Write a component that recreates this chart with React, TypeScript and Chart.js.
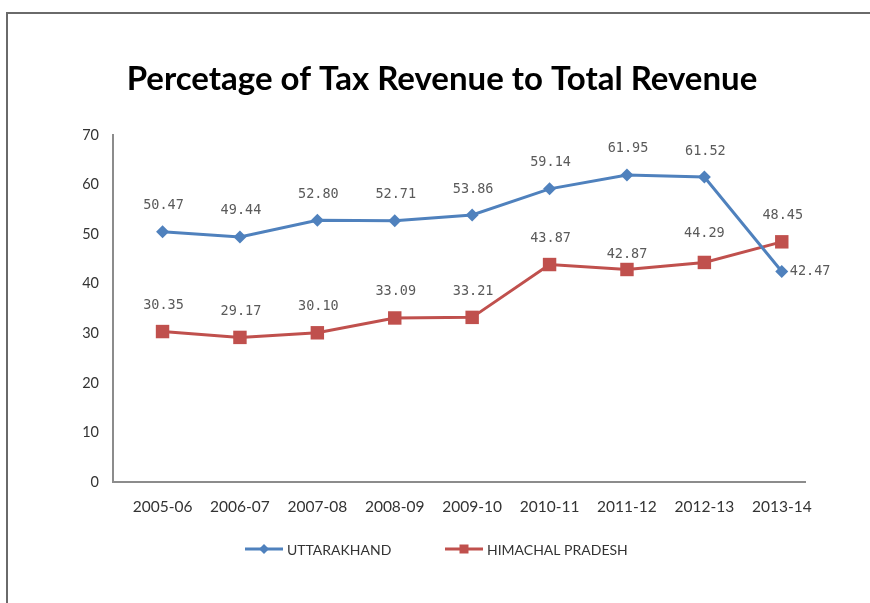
import React, { useEffect, useRef } from "react";
import { Chart, registerables } from "chart.js";

Chart.register(...registerables);

const chartTitle = "Percetage of Tax Revenue to Total Revenue";
const categories = ["2005-06", "2006-07", "2007-08", "2008-09", "2009-10", "2010-11", "2011-12", "2012-13", "2013-14"];
const seriesNames = ["UTTARAKHAND", "HIMACHAL PRADESH"];
const uttarakhand = [50.47, 49.44, 52.8, 52.71, 53.86, 59.14, 61.95, 61.52, 42.47];
const himachal = [30.35, 29.17, 30.1, 33.09, 33.21, 43.87, 42.87, 44.29, 48.45];
const yTicks = [0, 10, 20, 30, 40, 50, 60, 70];

const BLUE = "#4F81BD";
const RED = "#C0504D";

// label placement style: [dx, dy] relative to point, per dataset / index
const labelShift = (ds: number, i: number): [number, number, CanvasTextAlign] => {
  if (ds === 0 && i === 8) return [8, 0, "left"];
  if (ds === 1 && i === 6) return [0, -15, "center"];
  if (ds === 1 && i === 7) return [0, -29, "center"];
  return [1, -26, "center"];
};

const framePlugin = {
  id: "frame",
  beforeDraw(chart: any) {
    const ctx = chart.ctx;
    ctx.save();
    ctx.fillStyle = "#ffffff";
    ctx.fillRect(0, 0, chart.width, chart.height);
    ctx.strokeStyle = "#6a6a6a";
    ctx.lineWidth = 2;
    ctx.beginPath();
    ctx.moveTo(7, chart.height + 5);
    ctx.lineTo(7, 13);
    ctx.lineTo(chart.width + 5, 13);
    ctx.stroke();
    // title
    ctx.fillStyle = "#000000";
    ctx.font = "bold 33px Lato";
    ctx.textAlign = "center";
    ctx.textBaseline = "middle";
    ctx.fillText(chartTitle, 442, 79);
    ctx.restore();
  },
};

const labelPlugin = {
  id: "valueLabels",
  afterDatasetsDraw(chart: any) {
    const ctx = chart.ctx;
    ctx.save();
    ctx.font = "13.5px 'DejaVu Sans Mono'";
    ctx.fillStyle = "#5a5a5a";
    ctx.textBaseline = "middle";
    chart.data.datasets.forEach((ds: any, d: number) => {
      const meta = chart.getDatasetMeta(d);
      meta.data.forEach((pt: any, i: number) => {
        const [dx, dy, align] = labelShift(d, i);
        ctx.textAlign = align;
        ctx.fillText(ds.data[i].y.toFixed(2), pt.x + dx, pt.y + dy);
      });
    });
    ctx.restore();
  },
};

const legendPlugin = {
  id: "customLegend",
  afterDraw(chart: any) {
    const ctx = chart.ctx;
    ctx.save();
    const y = 549;
    const items = [
      { x: 245, color: BLUE, style: "diamond", text: seriesNames[0] },
      { x: 445, color: RED, style: "square", text: seriesNames[1] },
    ];
    items.forEach((it) => {
      ctx.strokeStyle = it.color;
      ctx.lineWidth = 3;
      ctx.beginPath();
      ctx.moveTo(it.x, y);
      ctx.lineTo(it.x + 38, y);
      ctx.stroke();
      ctx.fillStyle = it.color;
      const cx = it.x + 19;
      ctx.beginPath();
      if (it.style === "diamond") {
        ctx.moveTo(cx, y - 5);
        ctx.lineTo(cx + 5, y);
        ctx.lineTo(cx, y + 5);
        ctx.lineTo(cx - 5, y);
        ctx.closePath();
      } else {
        ctx.rect(cx - 4.5, y - 4.5, 9, 9);
      }
      ctx.fill();
      ctx.fillStyle = "#333333";
      ctx.font = "14px Lato";
      ctx.textAlign = "left";
      ctx.textBaseline = "middle";
      ctx.fillText(it.text, it.x + 42, y + 1);
    });
    ctx.restore();
  },
};

export default function App() {
  const ref = useRef<HTMLCanvasElement | null>(null);

  useEffect(() => {
    if (!ref.current) return;
    document.body.style.overflow = "hidden";
    const chart = new Chart(ref.current, {
      type: "line",
      data: {
        datasets: [
          {
            label: seriesNames[0],
            data: uttarakhand.map((v, i) => ({ x: i, y: v })),
            borderColor: BLUE,
            backgroundColor: BLUE,
            borderWidth: 3,
            pointStyle: "rectRot",
            pointRadius: 6.5,
            pointHoverRadius: 6.5,
            pointBorderWidth: 0,
            tension: 0,
          },
          {
            label: seriesNames[1],
            data: himachal.map((v, i) => ({ x: i, y: v })),
            borderColor: RED,
            backgroundColor: RED,
            borderWidth: 3,
            pointStyle: "rect",
            pointRadius: 9.5,
            pointHoverRadius: 9.5,
            pointBorderWidth: 0,
            tension: 0,
          },
        ],
      },
      options: {
        animation: false,
        responsive: false,
        devicePixelRatio: 1,
        layout: { padding: { left: 0, right: 65, top: 135, bottom: 81 } },
        plugins: {
          legend: { display: false },
          title: { display: false },
          tooltip: { enabled: false },
        },
        scales: {
          x: {
            type: "linear",
            min: -0.64,
            max: 8.3,
            grid: { display: false, drawTicks: false },
            border: { display: true, color: "#8c8c8c", width: 2 },
            afterBuildTicks: (scale: any) => {
              scale.ticks = categories.map((_, i) => ({ value: i }));
            },
            afterFit: (scale: any) => {
              scale.height = 40;
            },
            ticks: {
              autoSkip: false,
              maxRotation: 0,
              padding: 16,
              color: "#333333",
              font: { family: "Lato", size: 15.5 },
              callback: (v: any) => categories[Math.round(Number(v))] ?? "",
            },
          },
          y: {
            min: 0,
            max: 70,
            grid: { display: false, drawTicks: false },
            border: { display: true, color: "#8c8c8c", width: 2 },
            afterBuildTicks: (scale: any) => {
              scale.ticks = yTicks.map((v) => ({ value: v }));
            },
            afterFit: (scale: any) => {
              scale.width = 113;
            },
            ticks: {
              padding: 14,
              color: "#333333",
              font: { family: "Lato", size: 14.5 },
            },
          },
        },
      },
      plugins: [framePlugin, labelPlugin, legendPlugin],
    });
    return () => chart.destroy();
  }, []);

  return (
    <div style={{ position: "fixed", left: 0, top: 0, width: 870, height: 603, overflow: "hidden", background: "#fff" }}>
      <canvas ref={ref} width={870} height={603} style={{ display: "block", width: 870, height: 603 }} />
    </div>
  );
}
